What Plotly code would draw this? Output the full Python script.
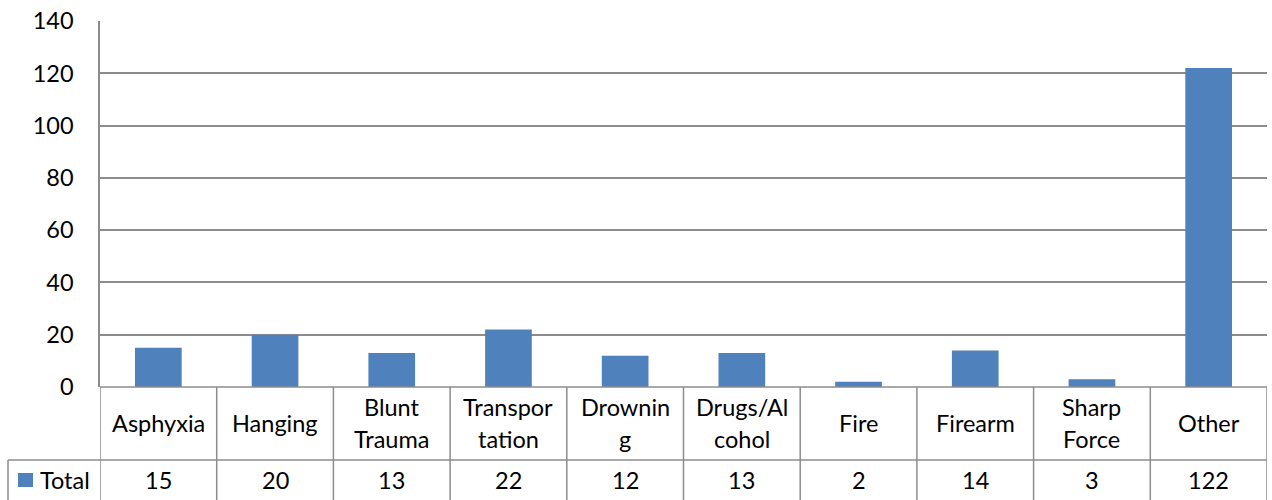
import plotly.graph_objects as go

# Cause-of-death counts
categories = ["Asphyxia", "Hanging", "Blunt Trauma", "Transportation", "Drowning",
              "Drugs/Alcohol", "Fire", "Firearm", "Sharp Force", "Other"]
# Wrapped cell text for the table row (one list entry per line)
table_labels = [["Asphyxia"], ["Hanging"], ["Blunt", "Trauma"], ["Transpor", "tation"],
                ["Drownin", "g"], ["Drugs/Al", "cohol"], ["Fire"], ["Firearm"],
                ["Sharp", "Force"], ["Other"]]
totals = [15, 20, 13, 22, 12, 13, 2, 14, 3, 122]
series_name = "Total"

W, H = 1272, 500
ML, MR, MT, MB = 100, 5, 21, 113
plot_w = W - ML - MR
plot_h = H - MT - MB

BAR = "#4f81bd"
LINE = "#8c8c8c"
FONT = "Lato, Carlito, Calibri, sans-serif"
FS = 23.5


def px_to_py(py):
    """Pixel row -> paper y."""
    return (H - MB - py) / plot_h


def px_to_px(px):
    """Pixel column -> paper x."""
    return (px - ML) / plot_w


fig = go.Figure(go.Bar(
    x=list(range(len(categories))), y=totals, name=series_name,
    marker=dict(color=BAR, line=dict(width=0)), width=0.4,
))

shapes = []
annotations = []
row_y = px_to_py(460)
bot_y = px_to_py(H)
txt = dict(family=FONT, size=FS, color="#000")

# Grid lines of the data table
shapes.append(dict(type="line", xref="paper", yref="paper", x0=0, x1=1, y0=0, y1=0,
                   line=dict(color=LINE, width=1.5)))
shapes.append(dict(type="line", xref="paper", yref="paper", x0=px_to_px(8), x1=1,
                   y0=row_y, y1=row_y, line=dict(color=LINE, width=1.5)))
shapes.append(dict(type="line", xref="paper", yref="paper", x0=px_to_px(8), x1=px_to_px(8),
                   y0=row_y, y1=bot_y, line=dict(color=LINE, width=1.5)))
for i in range(len(categories) + 1):
    shapes.append(dict(type="line", xref="x", yref="paper", x0=i - 0.5, x1=i - 0.5,
                       y0=0, y1=bot_y, line=dict(color=LINE, width=1.5)))

# Legend key in the table
shapes.append(dict(type="rect", xref="paper", yref="paper",
                   x0=px_to_px(18), x1=px_to_px(33), y0=px_to_py(473), y1=px_to_py(487),
                   fillcolor=BAR, line=dict(width=0)))
annotations.append(dict(xref="paper", yref="paper", x=px_to_px(38), y=px_to_py(480),
                        text=series_name, showarrow=False, xanchor="left", yanchor="middle",
                        font=txt))

for i, (lines, v) in enumerate(zip(table_labels, totals)):
    rows = [423] if len(lines) == 1 else [407, 439]
    for line_text, py in zip(lines, rows):
        annotations.append(dict(xref="x", yref="paper", x=i, y=px_to_py(py), text=line_text,
                                showarrow=False, xanchor="center", yanchor="middle", font=txt))
    annotations.append(dict(xref="x", yref="paper", x=i, y=px_to_py(480), text=str(v),
                            showarrow=False, xanchor="center", yanchor="middle", font=txt))

fig.update_layout(
    width=W, height=H,
    margin=dict(l=ML, r=MR, t=MT, b=MB),
    paper_bgcolor="white", plot_bgcolor="white",
    showlegend=False,
    font=txt,
    xaxis=dict(range=[-0.5, len(categories) - 0.5], showticklabels=False, showgrid=False,
               zeroline=False, showline=False, ticks=""),
    yaxis=dict(range=[0, 140], dtick=20, showgrid=True, gridcolor=LINE, gridwidth=1.5,
               zeroline=False, showline=True, linecolor=LINE, linewidth=1.5, ticks="",
               ticklabelstandoff=20, tickfont=txt),
    shapes=shapes,
    annotations=annotations,
)

fig.write_html("out.html")
